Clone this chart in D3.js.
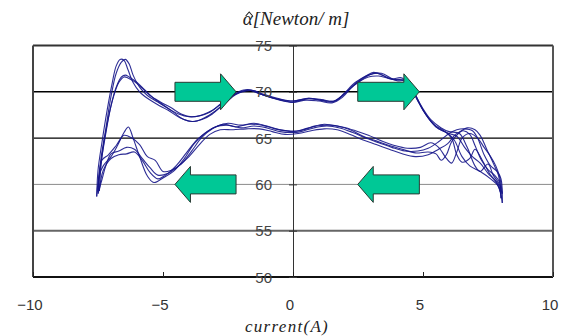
<!DOCTYPE html>
<html><head><meta charset="utf-8">
<script src="https://cdn.jsdelivr.net/npm/d3@7"></script>
<style>body{margin:0;background:#fff}svg{display:block}</style>
</head><body>
<svg id="c" width="574" height="336"></svg>
<script>
// ---- data ----
const xTicks = [-10, -5, 0, 5, 10];
const xTickLabels = ["\u221210", "\u22125", "0", "5", "10"];
const yTicks = [50, 55, 60, 65, 70, 75];
const yTickLabels = ["50", "55", "60", "65", "70", "75"];
const titleSymbol = "\u03B1";
const titleRest = "[Newton/ m]";
const xTitle = "current(A)";

const fwd1 = [[-7.55,58.7],[-7.5,61.5],[-7.35,64.5],[-7.15,68],[-6.95,71],[-6.8,72.8],[-6.65,73.5],[-6.5,73.4],[-6.35,72.4],[-6.15,71],[-5.9,70],[-5.6,69.3],[-5.2,68.6],[-4.8,68],[-4.35,67.2],[-3.9,66.8],[-3.5,67.0],[-3.1,67.6],[-2.7,68.6],[-2.3,69.6],[-1.9,70.1],[-1.6,70.15],[-1.2,69.7],[-0.6,69.2],[0,68.9],[0.6,69.25],[1.0,69.1],[1.5,68.9],[1.9,69.6],[2.3,70.8],[2.8,71.7],[3.1,72.1],[3.5,71.7],[4.0,71.2],[4.4,71.1],[4.75,69.3],[5.1,67.6],[5.5,66.2],[5.9,65.6],[6.2,64.8],[6.5,63.0],[6.8,62.0],[7.2,61.4],[7.6,60.6],[7.9,59.8],[8.05,58.0]];
const rev1 = [[8.05,58.0],[8.0,60.6],[7.85,61.4],[7.6,62.0],[7.35,63.2],[7.1,65.0],[6.9,65.8],[6.6,66.0],[6.3,65.9],[6.0,65.5],[5.6,64.6],[5.2,63.9],[4.8,63.6],[4.3,63.6],[3.8,64.0],[3.3,64.5],[2.8,65.0],[2.3,65.6],[1.8,66.1],[1.3,66.3],[0.8,66.1],[0.3,65.7],[0,65.6],[-0.5,65.7],[-1.0,66.1],[-1.5,66.3],[-2.0,66.1],[-2.5,66.4],[-3.0,66.2],[-3.4,65.5],[-3.8,64.4],[-4.2,62.7],[-4.6,61.4],[-5.0,60.7],[-5.35,60.2],[-5.6,60.9],[-5.9,63.0],[-6.15,65.0],[-6.33,66.2],[-6.5,65.6],[-6.75,64.2],[-7.0,63.0],[-7.3,62.0],[-7.45,61.0],[-7.55,58.7]];
const fwd2 = [[-7.5,59.2],[-7.4,62.5],[-7.2,66],[-7.0,69.5],[-6.8,72],[-6.6,73.2],[-6.45,73.5],[-6.3,73.0],[-6.15,71.8],[-5.9,70.5],[-5.6,69.6],[-5.2,68.9],[-4.8,68.2],[-4.4,67.6],[-4.0,67.3],[-3.6,67.4],[-3.2,67.8],[-2.8,68.6],[-2.4,69.5],[-2.0,70.0],[-1.7,70.2],[-1.3,69.8],[-0.7,69.3],[0,69.0],[0.6,69.3],[1.1,69.1],[1.6,69.0],[2.0,69.8],[2.4,70.9],[2.9,71.8],[3.3,72.0],[3.7,71.4],[4.1,71.3],[4.45,71.0],[4.8,69.0],[5.2,67.2],[5.6,66.0],[6.0,65.5],[6.3,65.2],[6.6,64.0],[6.9,63.0],[7.2,62.3],[7.5,61.2],[7.8,60.3],[8.0,59.0]];
const rev2 = [[8.0,59.0],[7.9,61.0],[7.7,62.3],[7.45,63.8],[7.2,65.3],[7.0,65.9],[6.7,66.1],[6.4,65.6],[6.1,64.6],[5.9,63.2],[5.7,62.6],[5.5,63.3],[5.2,63.5],[4.7,63.4],[4.2,63.8],[3.7,64.2],[3.2,64.7],[2.7,65.2],[2.2,65.9],[1.7,66.3],[1.2,66.5],[0.7,66.2],[0.2,65.8],[-0.2,65.8],[-0.7,66.0],[-1.2,66.4],[-1.7,66.5],[-2.2,66.2],[-2.7,66.5],[-3.1,66.0],[-3.5,65.1],[-3.9,63.6],[-4.3,62.2],[-4.7,61.5],[-5.0,61.4],[-5.3,62.6],[-5.6,63.0],[-5.9,64.3],[-6.2,65.0],[-6.5,65.3],[-6.8,64.2],[-7.1,63.2],[-7.35,62.6],[-7.5,59.2]];
const fwd3 = [[-7.5,59.0],[-7.4,62],[-7.2,65.5],[-7.0,68.5],[-6.8,70.5],[-6.6,71.6],[-6.45,71.8],[-6.3,71.6],[-6.0,71.0],[-5.7,70.2],[-5.4,69.4],[-5.0,68.6],[-4.6,67.8],[-4.2,67.0],[-3.8,66.8],[-3.4,67.2],[-3.0,67.9],[-2.6,68.8],[-2.2,69.7],[-1.8,70.1],[-1.5,70.1],[-1.1,69.6],[-0.5,69.1],[0,68.85],[0.5,69.1],[1.0,69.0],[1.5,68.8],[1.9,69.4],[2.3,70.6],[2.7,71.4],[3.0,71.9],[3.4,72.0],[3.9,71.3],[4.3,71.3],[4.7,69.7],[5.0,68.0],[5.4,66.5],[5.8,65.8],[6.1,65.0],[6.3,63.2],[6.5,62.4],[6.8,62.8],[7.0,63.8],[7.3,62.5],[7.6,61.0],[7.9,60.0],[8.0,58.5]];
const rev3 = [[8.0,58.5],[7.95,60.2],[7.75,61.0],[7.5,61.6],[7.25,62.6],[7.0,64.2],[6.8,65.4],[6.55,65.8],[6.25,65.4],[5.95,64.4],[5.6,63.8],[5.2,63.2],[4.7,63.0],[4.2,63.3],[3.7,63.8],[3.2,64.3],[2.7,64.8],[2.2,65.4],[1.7,65.9],[1.2,66.0],[0.7,65.8],[0.2,65.5],[-0.3,65.4],[-0.8,65.7],[-1.3,66.0],[-1.8,66.0],[-2.3,65.9],[-2.8,65.9],[-3.2,65.4],[-3.6,64.3],[-4.0,63.0],[-4.4,62.0],[-4.8,61.2],[-5.2,61.0],[-5.5,61.8],[-5.8,62.8],[-6.1,63.8],[-6.4,64.0],[-6.7,63.6],[-7.0,63.3],[-7.2,62.0],[-7.35,60.5],[-7.5,59.0]];
const fwd4 = [[-7.45,59.3],[-7.35,63],[-7.15,66.5],[-6.9,69.5],[-6.7,71.0],[-6.5,71.6],[-6.35,71.5],[-6.1,71.1],[-5.8,70.4],[-5.5,69.6],[-5.1,68.9],[-4.7,68.3],[-4.3,67.6],[-3.9,67.3],[-3.5,67.5],[-3.1,68.0],[-2.7,68.9],[-2.3,69.7],[-1.9,70.2],[-1.6,70.2],[-1.2,69.8],[-0.6,69.3],[0,69.0],[0.6,69.3],[1.1,69.15],[1.6,69.0],[2.0,69.9],[2.5,71.0],[2.9,71.6],[3.3,71.7],[3.8,71.4],[4.2,71.5],[4.6,70.2],[4.95,68.4],[5.3,67.0],[5.7,66.1],[6.0,65.7],[6.4,65.5],[6.7,64.0],[7.0,62.0],[7.2,61.4],[7.5,62.2],[7.7,61.0],[7.9,60.2],[8.05,59.0]];
const rev4 = [[8.05,59.0],[7.95,60.8],[7.8,62.0],[7.6,63.0],[7.35,64.0],[7.1,65.0],[6.8,65.5],[6.5,65.0],[6.3,63.5],[6.1,62.3],[5.9,62.8],[5.6,64.0],[5.3,64.5],[4.9,64.0],[4.4,63.9],[3.9,64.2],[3.4,64.7],[2.9,65.3],[2.4,65.8],[1.9,66.2],[1.4,66.4],[0.9,66.3],[0.4,65.9],[0,65.7],[-0.5,65.9],[-1.0,66.3],[-1.5,66.6],[-2.0,66.4],[-2.5,66.6],[-2.9,66.3],[-3.3,65.7],[-3.7,64.8],[-4.1,63.4],[-4.5,62.0],[-4.9,61.0],[-5.2,60.6],[-5.5,61.3],[-5.8,62.6],[-6.1,63.5],[-6.4,63.3],[-6.7,63.2],[-7.0,62.8],[-7.3,61.5],[-7.45,59.3]];
const loops = [fwd1, rev1, fwd2, rev2, fwd3, rev3, fwd4, rev4];

// arrow annotations: [from current, to current (tip), level]
const arrowFrom = [-4.54, 2.49, -2.19, 4.86];
const arrowTo   = [-2.19, 4.86, -4.54, 2.49];
const arrowLevel = [70, 70, 60, 60];

// ---- drawing ----
const svg = d3.select("#c");
const L = 33, R = 553, T = 45.5, B = 277;
const x = d3.scaleLinear().domain([-10, 10]).range([L, R]);
const y = d3.scaleLinear().domain([50, 75]).range([B, T]);

const gridStyle = {50:["#111",2],55:["#666",2],60:["#8a8a8a",1],65:["#000",1.4],70:["#000",1.4],75:["#333",2]};
svg.append("g").selectAll("line").data(yTicks).join("line")
  .attr("x1", L).attr("x2", R)
  .attr("y1", d => y(d)).attr("y2", d => y(d))
  .attr("stroke", d => gridStyle[d][0]).attr("stroke-width", d => gridStyle[d][1]);
svg.append("line").attr("x1", L).attr("x2", L).attr("y1", T).attr("y2", B).attr("stroke", "#444").attr("stroke-width", 2);
svg.append("line").attr("x1", R).attr("x2", R).attr("y1", T).attr("y2", B).attr("stroke", "#555").attr("stroke-width", 2);

// y axis at x = 0
const yAxis = d3.axisLeft(y).tickValues(yTicks).tickFormat(() => "").tickSize(4).tickSizeOuter(0);
const yg = svg.append("g").attr("transform", `translate(${x(0)},0)`).call(yAxis);
yg.select(".domain").attr("stroke", "#333");
yg.selectAll(".tick line").attr("stroke", "#333").attr("x2", -4).attr("x1", 4);

// x axis ticks at bottom (inward)
const xAxis = d3.axisTop(x).tickValues(xTicks).tickFormat(() => "").tickSize(5).tickSizeOuter(0);
const xg = svg.append("g").attr("transform", `translate(0,${B})`).call(xAxis);
xg.select(".domain").remove();
xg.selectAll(".tick line").attr("stroke", "#222");

// curves
const line = d3.line().x(d => x(d[0])).y(d => y(d[1])).curve(d3.curveCatmullRom.alpha(0.5));
svg.append("g").selectAll("path").data(loops).join("path")
  .attr("d", line).attr("fill", "none").attr("stroke", "#16168a").attr("stroke-width", 1.1).attr("stroke-opacity", 0.9);

// y tick labels
svg.append("g").selectAll("text").data(yTicks).join("text")
  .attr("x", x(0) - 21).attr("y", d => y(d) + 5.5)
  .attr("text-anchor", "end").attr("font-family", "Liberation Sans, Arial, sans-serif")
  .attr("font-size", 15).attr("fill", "#444")
  .text((d, i) => yTickLabels[i]);

// x tick labels
svg.append("g").selectAll("text").data(xTicks).join("text")
  .attr("x", d => x(d) - 3).attr("y", 310)
  .attr("text-anchor", "middle").attr("font-family", "Liberation Sans, Arial, sans-serif")
  .attr("font-size", 15).attr("fill", "#333")
  .text((d, i) => xTickLabels[i]);

// arrows
const headLen = 15.5, bodyH = 9.5, headH = 18;
const arrowData = arrowFrom.map((f, i) => ({f, t: arrowTo[i], v: arrowLevel[i]}));
svg.append("g").selectAll("path").data(arrowData).join("path")
  .attr("d", d => {
    const x0 = x(d.f), x1 = x(d.t), yc = y(d.v);
    const dir = x1 > x0 ? 1 : -1;
    const hb = x1 - dir * headLen;
    return `M${x0},${yc - bodyH}L${hb},${yc - bodyH}L${hb},${yc - headH}L${x1},${yc}L${hb},${yc + headH}L${hb},${yc + bodyH}L${x0},${yc + bodyH}Z`;
  })
  .attr("fill", "#00c896").attr("stroke", "#2a3a34").attr("stroke-width", 1);

// titles
const serif = "Liberation Serif, Times New Roman, serif";
const t = svg.append("text").attr("x", 296).attr("y", 25).attr("text-anchor", "middle")
  .attr("font-family", serif).attr("font-style", "italic")
  .attr("font-size", 19).attr("fill", "#222");
t.append("tspan").text(titleSymbol);
t.append("tspan").text(titleRest);
const a = t.node().getExtentOfChar(0);
const hx = a.x + a.width / 2 + 1.5, hy = 25 - 12;
svg.append("path").attr("d", `M${hx - 3.5},${hy + 3}L${hx},${hy - 1}L${hx + 3.5},${hy + 3}`)
  .attr("fill", "none").attr("stroke", "#222").attr("stroke-width", 1.1);

svg.append("text").attr("x", 287).attr("y", 332).attr("text-anchor", "middle")
  .attr("font-family", serif).attr("font-style", "italic")
  .attr("font-size", 17).attr("letter-spacing", 1.3).attr("fill", "#222").text(xTitle);
</script>
</body></html>
